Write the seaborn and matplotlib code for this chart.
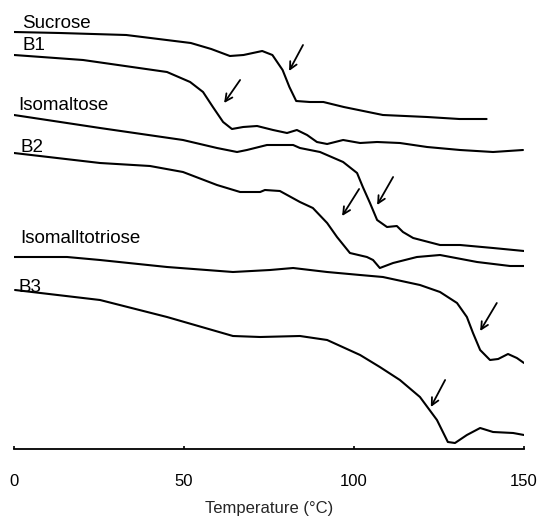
import matplotlib
matplotlib.use("Agg")
import matplotlib.pyplot as plt
import seaborn as sns
import pandas as pd

# ---- data (temperature in °C, signal in arbitrary stacked units) ----
sucrose_T = [0, 13.5, 33, 52, 58, 63.5, 67.5, 73, 76, 79, 81, 83, 87, 91, 97, 108.5, 121.5, 131, 139]
sucrose_S = [417, 416, 414, 406, 400, 393, 394, 398, 394, 379, 362, 348, 347, 347, 342, 334, 332, 330, 330]

b1_T = [0, 20.3, 45, 51.8, 55.6, 58.5, 61.5, 64.1, 67.4, 71.5, 76.2, 80.3, 83.2, 86.2, 89.1, 92.1,
        96.8, 101.8, 106.8, 113.5, 121.5, 131.2, 140.9, 149.7]
b1_S = [394, 389, 377, 367, 357, 342, 327, 320, 322, 323, 319, 316, 319, 314, 307, 305,
        309, 306, 307, 306, 302, 299, 297, 299]

isomaltose_T = [0, 25.3, 49.7, 59.7, 65.6, 68.5, 74.4, 82.1, 84.1, 90, 96.8, 100.9, 102.6, 104.7,
                106.8, 109.7, 112.6, 114.4, 117.4, 125.3, 131.2, 140.9, 150]
isomaltose_S = [334, 321, 309, 301, 297, 299, 304, 304, 301, 297, 287, 276, 262, 246,
                229, 222, 223, 217, 211, 204, 204, 201, 198]

b2_T = [0, 25.3, 40, 49.7, 59.7, 66.5, 72.4, 73.8, 78.2, 84.1, 87.9, 92.1, 95, 98.8, 103.8,
        105.6, 107.6, 111.5, 118.5, 125.3, 136.2, 145.9, 150]
b2_S = [296, 286, 283, 277, 264, 257, 257, 259, 258, 247, 241, 226, 212, 196, 192,
        189, 181, 186, 192, 194, 187, 183, 183]

isomalltotriose_T = [0, 15.6, 25.3, 45, 64.4, 75.3, 82.1, 92.1, 101.8, 108.5, 119.4, 125.3, 130.3,
                     133.2, 135, 137.1, 140, 142.4, 145.3, 147.9, 150]
isomalltotriose_S = [192, 192, 189, 182, 177, 179, 181, 177, 174, 172, 164, 157, 146,
                     132, 116, 99, 89, 90, 95, 91, 86]

b3_T = [0.3, 25.3, 45, 64.4, 72.4, 84.1, 92.1, 101.8, 107.6, 113.5, 119.4, 124.4, 127.6,
        129.7, 133.2, 137.1, 140.9, 146.8, 150]
b3_S = [159, 149, 132, 113, 112, 113, 109, 94, 82, 69, 52, 29, 7,
        6, 14, 21, 17, 16, 14]

series_names = ["Sucrose", "B1", "Isomaltose", "B2", "Isomalltotriose", "B3"]
label_T = [2.4, 2.4, 1.2, 1.8, 1.8, 1.2]
label_S = [421, 399, 339, 297, 206, 157]

# arrows: tail -> head
arrow_tail_T = [85, 66.5, 111.5, 101.5, 142, 126.8]
arrow_tail_S = [404, 369, 272, 260, 146, 69]
arrow_head_T = [80.9, 61.8, 106.8, 96.5, 137.1, 122.6]
arrow_head_S = [378, 346, 244, 233, 118, 42]

x_ticks = [0, 50, 100, 150]
x_label = "Temperature (°C)"

curves = [
    (sucrose_T, sucrose_S), (b1_T, b1_S), (isomaltose_T, isomaltose_S),
    (b2_T, b2_S), (isomalltotriose_T, isomalltotriose_S), (b3_T, b3_S),
]

frames = []
for name, (t, s) in zip(series_names, curves):
    frames.append(pd.DataFrame({"T": t, "S": s, "sample": name}))
df = pd.concat(frames, ignore_index=True)

sns.set_style("white")
plt.rcParams["font.family"] = ["Liberation Sans", "DejaVu Sans"]

fig = plt.figure(figsize=(5.38, 5.2), dpi=100)
ax = fig.add_axes([14 / 538, (520 - 449) / 520, 510 / 538, 449 / 520])

sns.lineplot(data=df, x="T", y="S", units="sample", estimator=None, sort=False,
             color="black", linewidth=1.5, ax=ax, legend=False)

for name, tx, sy in zip(series_names, label_T, label_S):
    ax.text(tx, sy, name, fontsize=13.5, color="black", ha="left", va="baseline")

for tt, ts, ht, hs in zip(arrow_tail_T, arrow_tail_S, arrow_head_T, arrow_head_S):
    ax.annotate("", xy=(ht, hs), xytext=(tt, ts),
                arrowprops=dict(arrowstyle="->", color="black", lw=1.3,
                                mutation_scale=13, shrinkA=0, shrinkB=0))

ax.set_xlim(0, 150)
ax.set_ylim(0, 449)
ax.set_xticks(x_ticks)
ax.set_xticklabels([str(v) for v in x_ticks], fontsize=12)
ax.set_yticks([])
ax.set_xlabel(x_label, fontsize=12, labelpad=9)
ax.set_ylabel("")
for sp in ["top", "left", "right"]:
    ax.spines[sp].set_visible(False)
ax.spines["bottom"].set_color("black")
ax.spines["bottom"].set_linewidth(1.3)
ax.tick_params(axis="x", bottom=True, direction="in", length=2.5, width=1.2,
               colors="black", pad=18)
ax.patch.set_alpha(0)

fig.savefig("out.png", dpi=100)
